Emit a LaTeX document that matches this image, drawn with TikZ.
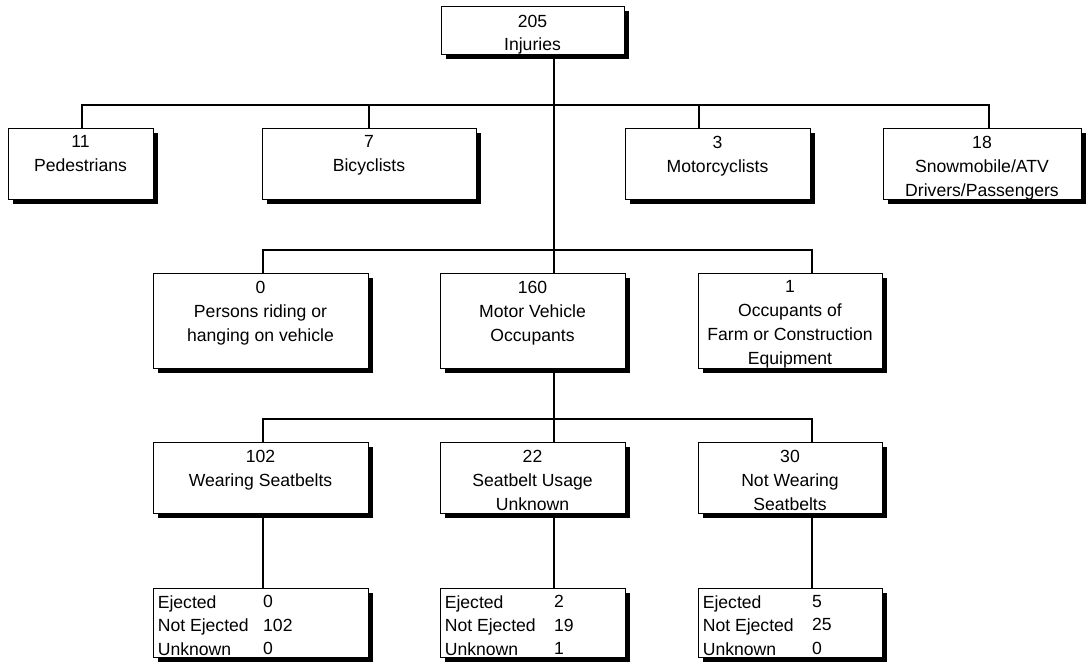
\documentclass[tikz,border=0pt]{standalone}
\usepackage{fontspec}
\setmainfont{Liberation Sans}
\usetikzlibrary{shadows}
\begin{document}
\begin{tikzpicture}[x=1pt,y=-1pt,
  box/.style={draw=black, line width=0.8pt, fill=white, rectangle, inner sep=0pt,
    drop shadow={shadow xshift=5pt, shadow yshift=-5pt, fill=black, opacity=1}},
  txt/.style={anchor=north, align=center, inner xsep=0pt, inner ysep=8pt,
    font=\fontsize{17.6}{24}\selectfont},
  tabl/.style={anchor=north west, align=left, inner xsep=5pt, inner ysep=7.5pt,
    font=\fontsize{17.6}{23.5}\selectfont},
  tabv/.style={anchor=north west, align=left, inner xsep=0pt, inner ysep=7.5pt,
    font=\fontsize{17.6}{23.5}\selectfont},
  conn/.style={line width=2pt, line join=miter},
  rtwo/.style={minimum height=71pt},
  rthree/.style={minimum height=95pt},
  rfour/.style={minimum height=71pt},
  rfive/.style={minimum height=69pt},
  cleft/.style={minimum width=215pt},
  cmid/.style={minimum width=185pt},
  cright/.style={minimum width=184pt}]
\useasboundingbox (0,0) rectangle (1088,662);

% row 1
\node[box, minimum width=183pt, minimum height=48pt] (inj) at (532.5,30) {};
\node[txt, inner ysep=9.5pt, font=\fontsize{17.6}{23}\selectfont] (injT) at (inj.north) {205\\Injuries};

% row 2
\node[box, rtwo, minimum width=145pt] (ped) at (80.5,163.5) {};
\node[box, rtwo, minimum width=214pt] (bic) at (369,163.5) {};
\node[box, rtwo, minimum width=185pt] (mot) at (717.5,163.5) {};
\node[box, rtwo, minimum width=198pt] (snow) at (982,163.5) {};
\node[txt] (pedT) at (ped.north) {11\\Pedestrians};
\node[txt] (bicT) at (bic.north) {7\\Bicyclists};
\node[txt] (motT) at (mot.north) {3\\Motorcyclists};
\node[txt] (snowT) at (snow.north) {18\\Snowmobile/ATV\\Drivers/Passengers};

% row 3
\node[box, rthree, cleft] (per) at (260.5,320.5) {};
\node[box, rthree, cmid] (mv) at (532.5,320.5) {};
\node[box, rthree, cright] (farm) at (790,320.5) {};
\node[txt] (perT) at (per.north) {0\\Persons riding or\\hanging on vehicle};
\node[txt] (mvT) at (mv.north) {160\\Motor Vehicle\\Occupants};
\node[txt] (farmT) at (farm.north) {1\\Occupants of\\Farm or Construction\\Equipment};

% row 4
\node[box, rfour, cleft] (wear) at (260.5,477.5) {};
\node[box, rfour, cmid] (sbu) at (532.5,477.5) {};
\node[box, rfour, cright] (notw) at (790,477.5) {};
\node[txt] (wearT) at (wear.north) {102\\Wearing Seatbelts};
\node[txt] (sbuT) at (sbu.north) {22\\Seatbelt Usage\\Unknown};
\node[txt] (notwT) at (notw.north) {30\\Not Wearing\\Seatbelts};

% connector x positions
\coordinate (T) at (554,0);
\coordinate (cP) at (82,0);
\coordinate (cB) at (369,0);
\coordinate (cM) at (699,0);
\coordinate (cS) at (989,0);
\coordinate (cL) at (263,0);
\coordinate (cR) at (812,0);
\coordinate (btwo) at (0,105);
\coordinate (bthree) at (0,250);
\coordinate (bfour) at (0,419);

% row 5
\node[box, rfive, cleft] (tw) at (260.5,622.5) {};
\node[box, rfive, cmid] (tu) at (532.5,622.5) {};
\node[box, rfive, cright] (tn) at (790,622.5) {};
\node[tabl] (twL) at (tw.north west) {Ejected\\Not Ejected\\Unknown};
\node[tabv] (twV) at (tw.north -| cL) {0\\102\\0};
\node[tabl] (tuL) at (tu.north west) {Ejected\\Not Ejected\\Unknown};
\node[tabv] (tuV) at (tu.north -| T) {2\\19\\1};
\node[tabl] (tnL) at (tn.north west) {Ejected\\Not Ejected\\Unknown};
\node[tabv] (tnV) at (tn.north -| cR) {5\\25\\0};

% connectors
\draw[conn] (inj.south -| T) -- (mv.north -| T);
\draw[conn] (ped.north -| cP) |- (btwo -| cS) -- (snow.north -| cS);
\draw[conn] (bic.north -| cB) -- (btwo -| cB);
\draw[conn] (mot.north -| cM) -- (btwo -| cM);
\draw[conn] (per.north -| cL) |- (bthree -| cR) -- (farm.north -| cR);
\draw[conn] (mv.south -| T) -- (sbu.north -| T);
\draw[conn] (wear.north -| cL) |- (bfour -| cR) -- (notw.north -| cR);
\draw[conn] (wear.south -| cL) -- (tw.north -| cL);
\draw[conn] (sbu.south -| T) -- (tu.north -| T);
\draw[conn] (notw.south -| cR) -- (tn.north -| cR);
\end{tikzpicture}
\end{document}
